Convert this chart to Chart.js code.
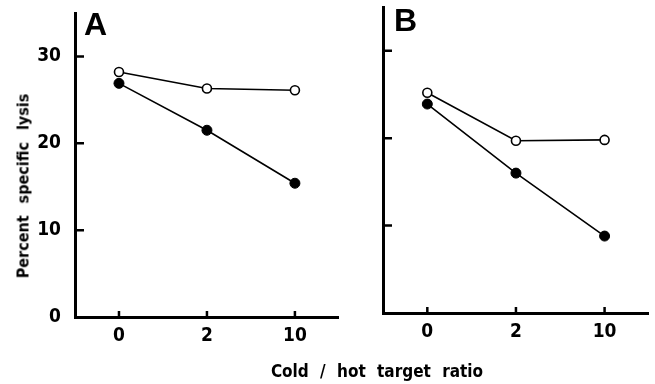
<!DOCTYPE html>
<html>
<head>
<meta charset="utf-8">
<script src="https://cdn.jsdelivr.net/npm/chart.js@4/dist/chart.umd.min.js"></script>
<style>
  html, body { margin: 0; padding: 0; background: #fff; }
  #wrap { position: relative; width: 655px; height: 384px; overflow: hidden; }
  canvas { position: absolute; top: 0; }
  .lbl { position: absolute; font-family: "DejaVu Sans Condensed", sans-serif; font-weight: bold; color: #000; white-space: nowrap; }
  .panel { position: absolute; font-family: "Liberation Sans", Arial, sans-serif; font-weight: bold; font-size: 32px; line-height: 1; color: #000; }
</style>
</head>
<body>
<div id="wrap">
  <canvas id="chartA" width="345" height="384" style="left:0"></canvas>
  <canvas id="chartB" width="310" height="384" style="left:345px"></canvas>
  <div class="panel" style="left:84px; top:8px;">A</div>
  <div class="panel" style="left:394px; top:4px;">B</div>
  <div class="lbl" id="ytitle" style="font-size:16px; word-spacing:7px; left:23px; top:186px; transform: translate(-50%, -50%) rotate(-90deg);">Percent specific lysis</div>
  <div class="lbl" id="xtitle" style="font-size:17px; word-spacing:6px; left:377px; top:371px; transform: translate(-50%, -50%);">Cold / hot target ratio</div>
</div>
<script>
const ratios = ["0", "2", "10"];
const yTickValues = [0, 10, 20, 30];
const yMax = 35;

const openA = [28.2, 26.3, 26.1];
const filledA = [26.9, 21.5, 15.4];
const openB = [25.2, 19.7, 19.8];
const filledB = [23.9, 16.0, 8.8];

const tickFont = { family: '"DejaVu Sans Condensed", sans-serif', weight: "bold", size: 19 };

// inward tick marks, as in the original figure
const innerTicks = {
    id: "innerTicks",
    afterDraw(chart) {
        const ctx = chart.ctx;
        const area = chart.chartArea;
        const x = chart.scales.x, y = chart.scales.y;
        ctx.save();
        ctx.strokeStyle = "#000";
        ctx.lineWidth = 2.5;
        ctx.beginPath();
        yTickValues.forEach(v => {
            if (v === 0) return;
            const py = y.getPixelForValue(v);
            ctx.moveTo(area.left, py);
            ctx.lineTo(area.left + 9, py);
        });
        ratios.forEach((r, i) => {
            const px = x.getPixelForValue(i);
            ctx.moveTo(px, area.bottom);
            ctx.lineTo(px, area.bottom - 6);
        });
        ctx.stroke();
        ctx.restore();
    }
};

function makeChart(id, open, filled, opts) {
    const ctx = document.getElementById(id).getContext("2d");
    return new Chart(ctx, {
        type: "line",
        data: {
            labels: ratios,
            datasets: [
                {
                    label: "filled", data: filled,
                    borderColor: "#000", borderWidth: 1.6,
                    pointRadius: 5, pointBackgroundColor: "#000", pointBorderColor: "#000", pointBorderWidth: 1
                },
                {
                    label: "open", data: open,
                    borderColor: "#000", borderWidth: 1.6,
                    pointRadius: 4.5, pointBackgroundColor: "#fff", pointBorderColor: "#000", pointBorderWidth: 1.6
                }
            ]
        },
        options: {
            responsive: false,
            animation: false,
            events: [],
            layout: { padding: { left: 0, right: 3, top: opts.top, bottom: 0 } },
            plugins: { legend: { display: false }, tooltip: { enabled: false }, title: { display: false } },
            scales: {
                x: {
                    type: "category",
                    offset: true,
                    grid: { display: false, drawTicks: false },
                    border: { display: true, color: "#000", width: 3 },
                    ticks: { color: "#000", font: tickFont, padding: 8 },
                    afterFit: s => { s.height = opts.xHeight; }
                },
                y: {
                    min: 0, max: yMax,
                    grid: { display: false, drawTicks: false },
                    border: { display: true, color: "#000", width: 3 },
                    ticks: { display: opts.yLabels, color: "#000", font: tickFont, padding: 14 },
                    afterBuildTicks: s => { s.ticks = yTickValues.map(v => ({ value: v })); },
                    afterFit: s => {
                        s.width = opts.yWidth;
                        s.paddingTop = 0;
                        s.paddingBottom = 0;
                    }
                }
            }
        },
        plugins: [innerTicks]
    });
}

makeChart("chartA", openA, filledA, { top: 13, xHeight: 67, yWidth: 75, yLabels: true });
makeChart("chartB", openB, filledB, { top: 7, xHeight: 71, yWidth: 38, yLabels: false });
</script>
</body>
</html>
